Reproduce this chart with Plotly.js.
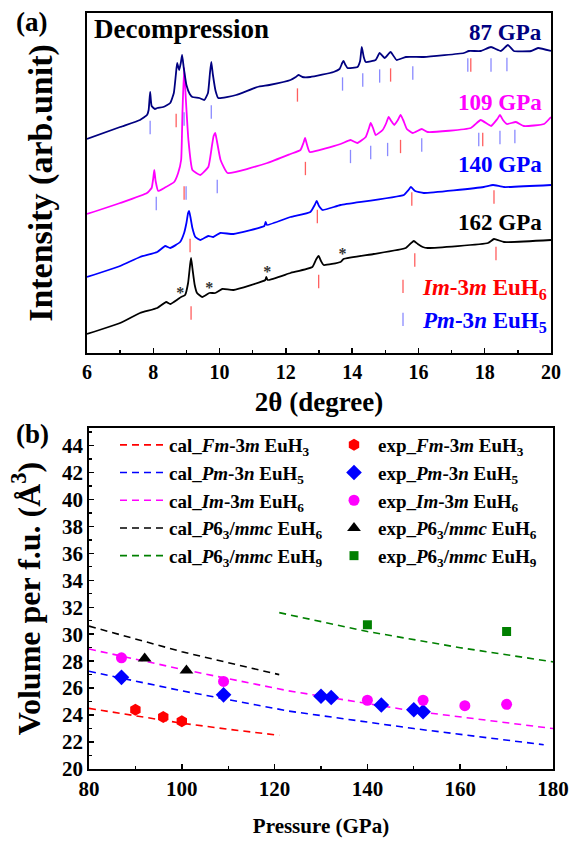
<!DOCTYPE html>
<html><head><meta charset="utf-8">
<script src="https://cdn.plot.ly/plotly-3.0.1.min.js"></script>
<style>body{margin:0;padding:0;background:#fff}#chart{width:580px;height:841px}</style>
</head><body><div id="chart"></div>
<script>
// ---------- Panel (a): XRD patterns (2θ in degree, intensity in arb. units) ----------
var x87 = [6.00,7.00,7.60,7.81,7.86,7.905,7.95,8.05,8.12,8.30,8.51,8.62,8.68,8.72,8.78,8.83,8.87,8.92,9.00,9.10,9.18,9.39,9.54,9.65,9.71,9.75,9.80,9.88,9.96,10.5,11.14,11.5,12.14,12.30,12.38,12.50,12.74,13.44,13.62,13.70,13.74,13.80,13.86,14.16,14.24,14.29,14.35,14.41,14.71,14.83,14.98,15.16,15.34,15.62,16.16,17.37,17.52,17.88,18.19,18.49,18.70,18.88,19.40,19.61,20.00];
var y87 = [214,226,233,238,243,261,247,244,245,246,250,260,278,290,283,290,298,285,268,259,256,255,253,260,280,291,278,262,255,258,266,268,273,276,278,276,276,281,284,290,292,288,285,286,292,306,296,291,293,300,295,301,293,296,296,300,302,302,306,302,308,302,302,305,302];
var x109 = [6.00,7.00,7.81,7.95,8.00,8.03,8.07,8.15,8.33,8.63,8.75,8.84,8.88,8.93,8.98,9.06,9.18,9.42,9.66,9.76,9.82,9.87,9.92,10.03,10.24,11.44,12.14,12.44,12.53,12.58,12.64,12.72,13.65,13.95,14.16,14.41,14.50,14.56,14.63,14.71,14.92,15.03,15.10,15.18,15.27,15.38,15.46,15.54,15.65,15.83,16.10,16.28,17.58,17.88,18.19,18.38,18.46,18.55,18.67,18.94,19.18,19.79,20.00];
var y109 = [139,150,160,165,175,183,172,162,165,171,180,193,240,285,255,213,183,178,186,205,217,220,212,193,180,190,199,203,210,215,208,201,209,213,210,216,224,230,225,218,223,230,236,232,228,233,238,233,224,220,224,221,225,233,227,234,238,233,229,231,227,229,236];
var x140 = [6.00,7.00,7.60,8.12,8.36,8.51,8.81,8.93,9.00,9.05,9.08,9.12,9.18,9.27,9.42,9.66,9.81,10.02,10.42,11.35,11.39,11.43,12.14,12.74,12.87,12.93,13.00,13.11,13.65,15.56,15.70,15.77,15.90,16.16,17.97,18.25,18.58,20.00];
var y140 = [76,87,96,101,107,105,111,120,130,140,142,136,125,116,113,117,116,120,119,127,131,128,136,141,148,152,147,143,148,158,163,166,162,160,166,168,166,168];
var x162 = [6.00,7.00,7.60,8.12,8.39,8.51,8.75,8.84,8.96,9.05,9.11,9.14,9.18,9.25,9.32,9.48,9.69,9.87,10.08,10.42,11.38,11.41,11.45,12.14,12.80,12.92,12.99,13.06,13.14,13.65,13.74,14.65,15.62,15.78,15.86,15.98,16.13,16.28,18.10,18.28,18.58,20.00];
var y162 = [19,30,40,45,51,49,54,56,58,70,88,95,85,68,60,56,60,60,64,63,73,76,73,80,86,94,97,92,88,91,94,99,105,110,112,109,106,105,110,114,111,113];

// Bragg reflection positions (2θ) and the height where each tick sits
var t87BlueX = [7.905,8.93,9.75,13.71,14.32,14.83,15.83,17.49,18.19,18.67];
var t87BlueY = [225.5,234,241,269,273,277,280,288,288,288.5];
var t87RedX = [8.69,12.35,15.16,17.58];
var t87RedY = [232.5,258,278,288];
var t109BlueX = [8.09,8.99,9.93,13.95,14.56,15.07,16.10,17.82,18.46,18.91];
var t109BlueY = [149.5,160,166.5,196.5,200.5,203.5,208,213.5,215.5,216.5];
var t109RedX = [8.93,12.59,15.46,17.94];
var t109RedY = [160,184.5,206.5,213.5];
var t140RedX = [9.11,12.95,15.80,18.28];
var t140RedY = [107.5,136.5,154,156];
var t162RedX = [9.14,12.99,15.89,18.34];
var t162RedY = [40,71.5,93,99.5];

// impurity peaks marked with *
var astX = [8.81,9.69,11.44,13.71];
var astY = [59,64,80,98];

// pressure labels
var pressLabels = ['87 GPa','109 GPa','140 GPa','162 GPa'];
var pressLabelY = [320,250,188,130];
var pressColors = ['#000080','#ff00ff','#0000ff','#000000'];

// ---------- Panel (b): volume per formula unit vs pressure ----------
var calP_Fm = [80,90,100,110,121];   var calV_Fm = [24.5,23.95,23.4,22.95,22.5];
var calP_Pm = [80,100,123,150,178];  var calV_Pm = [27.25,25.8,24.3,23.0,21.8];
var calP_Im = [80,100,123,150,180];  var calV_Im = [28.9,27.4,25.8,24.3,23.0];
var calP_P6 = [80,100,121];          var calV_P6 = [30.6,28.7,27.0];
var calP_P9 = [121,140,160,180];     var calV_P9 = [31.6,30.2,29.0,27.95];

var expP_Fm = [90,96,100];                       var expV_Fm = [24.4,23.85,23.55];
var expP_Pm = [87,109,130,132.2,143,150,152];    var expV_Pm = [26.8,25.5,25.4,25.3,24.75,24.4,24.25];
var expP_Im = [87,109,140,152,161,170];          var expV_Im = [28.25,26.5,25.1,25.1,24.7,24.8];
var expP_P6 = [92,101];                          var expV_P6 = [28.2,27.3];
var expP_P9 = [140,170];                         var expV_P9 = [30.7,30.2];

var FONT = 'Liberation Serif, Times New Roman, serif';
function F(size, color){ return {family:FONT, size:size, color:color || '#000', weight:'bold'}; }
var W = 580, H = 841;
function px(v){ return v / W; }
function py(v){ return (H - v) / H; }

var traces = [];
function curve(x, y, c){
  traces.push({x:x, y:y, xaxis:'x', yaxis:'y', mode:'lines', showlegend:false, hoverinfo:'skip',
    line:{color:c, width:1.8, shape:'spline', smoothing:0.4}});
}
curve(x162, y162, '#000000');
curve(x140, y140, '#0000ff');
curve(x109, y109, '#ff00ff');
curve(x87, y87, '#000080');

var redX = [].concat(t87RedX, t109RedX, t140RedX, t162RedX);
var redY = [].concat(t87RedY, t109RedY, t140RedY, t162RedY);
var blueX = [].concat(t87BlueX, t109BlueX);
var blueY = [].concat(t87BlueY, t109BlueY);
traces.push({x:redX, y:redY, xaxis:'x', yaxis:'y', mode:'markers', legend:'legend3',
  name:'<span style="color:#ff0000"><i>Im</i>-3<i>m</i> EuH<sub>6</sub></span>',
  marker:{symbol:'line-ns-open', size:9.5, color:'rgba(255,40,40,0.75)', line:{width:1.3}}});
traces.push({x:blueX, y:blueY, xaxis:'x', yaxis:'y', mode:'markers', legend:'legend3',
  name:'<span style="color:#0000ff"><i>Pm</i>-3<i>n</i> EuH<sub>5</sub></span>',
  marker:{symbol:'line-ns-open', size:9.5, color:'rgba(60,60,255,0.6)', line:{width:1.3}}});
traces.push({x:astX, y:astY, xaxis:'x', yaxis:'y', mode:'text', text:astX.map(function(){return '*';}),
  textposition:'middle center', textfont:F(16, '#333333'), showlegend:false, hoverinfo:'skip'});

function cal(x, y, c, nm){
  traces.push({x:x, y:y, xaxis:'x2', yaxis:'y2', mode:'lines', name:nm, legend:'legend',
    line:{color:c, width:1.6, dash:'7px,5px'}});
}
cal(calP_Fm, calV_Fm, '#ff0000', 'cal_<i>Fm</i>-3<i>m</i> EuH<sub>3</sub>');
cal(calP_Pm, calV_Pm, '#0000ff', 'cal_<i>Pm</i>-3<i>n</i> EuH<sub>5</sub>');
cal(calP_Im, calV_Im, '#ff00ff', 'cal_<i>Im</i>-3<i>m</i> EuH<sub>6</sub>');
cal(calP_P6, calV_P6, '#000000', 'cal_<i>P</i>6<sub>3</sub>/<i>mmc</i> EuH<sub>6</sub>');
cal(calP_P9, calV_P9, '#008000', 'cal_<i>P</i>6<sub>3</sub>/<i>mmc</i> EuH<sub>9</sub>');

function exp(x, y, c, sym, sz, nm){
  traces.push({x:x, y:y, xaxis:'x2', yaxis:'y2', mode:'markers', name:nm, legend:'legend2',
    marker:{color:c, symbol:sym, size:sz, line:{width:0}}});
}
exp(expP_Fm, expV_Fm, '#ff0000', 'hexagon', 12, 'exp_<i>Fm</i>-3<i>m</i> EuH<sub>3</sub>');
exp(expP_Pm, expV_Pm, '#0000ff', 'diamond', 12, 'exp_<i>Pm</i>-3<i>n</i> EuH<sub>5</sub>');
exp(expP_Im, expV_Im, '#ff00ff', 'circle', 11, 'exp_<i>Im</i>-3<i>m</i> EuH<sub>6</sub>');
exp(expP_P6, expV_P6, '#000000', 'triangle-up', 12, 'exp_<i>P</i>6<sub>3</sub>/<i>mmc</i> EuH<sub>6</sub>');
exp(expP_P9, expV_P9, '#008000', 'square', 9, 'exp_<i>P</i>6<sub>3</sub>/<i>mmc</i> EuH<sub>9</sub>');

var axCommon = {showline:true, linewidth:1.8, linecolor:'#000', mirror:true, showgrid:false, zeroline:false,
  ticks:'inside', ticklen:5, tickwidth:1.5, tickcolor:'#000'};

var annotations = [
  {xref:'paper', yref:'paper', x:px(14), y:py(22), xanchor:'left', yanchor:'middle', showarrow:false,
   text:'(a)', font:F(27)},
  {xref:'paper', yref:'paper', x:px(14), y:py(434), xanchor:'left', yanchor:'middle', showarrow:false,
   text:'(b)', font:F(27)},
  {xref:'x', yref:'paper', x:6, xshift:5, y:py(29), xanchor:'left', yanchor:'middle', showarrow:false,
   text:'Decompression', font:F(27)}
];
pressLabels.forEach(function(t, i){
  annotations.push({xref:'x', yref:'y', x:20, xshift:-7, y:pressLabelY[i], xanchor:'right', yanchor:'middle',
    showarrow:false, text:t, font:F(23, pressColors[i])});
});

var legCommon = {bgcolor:'rgba(0,0,0,0)', borderwidth:0, xanchor:'left', yanchor:'top', tracegroupgap:0,
  traceorder:'normal', itemclick:false, itemdoubleclick:false};

var layout = {
  width:W, height:H, margin:{l:0, r:0, t:0, b:0}, paper_bgcolor:'#fff', plot_bgcolor:'#fff',
  font:F(20),
  xaxis: Object.assign({}, axCommon, {domain:[px(87), px(551)], range:[6,20], anchor:'y', tick0:6, dtick:2,
    minor:{dtick:1, ticks:'inside', ticklen:3, tickwidth:1.3, tickcolor:'#000'},
    tickfont:F(20), title:{text:'2θ (degree)', font:F(27), standoff:10}}),
  yaxis: Object.assign({}, axCommon, {domain:[py(353), py(13)], range:[0,340], anchor:'x', ticks:'', showticklabels:false,
    title:{text:'Intensity (arb.unit)', font:F(34), standoff:22}}),
  xaxis2: Object.assign({}, axCommon, {domain:[px(89), px(553)], range:[80,180], anchor:'y2', tick0:80, dtick:20,
    minor:{dtick:10, ticks:'inside', ticklen:3, tickwidth:1.3, tickcolor:'#000'},
    tickfont:F(21), title:{text:'Pressure (GPa)', font:F(21), standoff:18}}),
  yaxis2: Object.assign({}, axCommon, {domain:[py(769), py(428)], range:[20,45.3], anchor:'x2', tick0:20, dtick:2,
    minor:{dtick:1, ticks:'inside', ticklen:3, tickwidth:1.3, tickcolor:'#000'},
    tickfont:F(21), title:{text:'Volume per f.u. (Å<sup>3</sup>)', font:F(32), standoff:12}}),
  legend: Object.assign({}, legCommon, {x:px(115), y:py(426), itemwidth:44, font:F(19)}),
  legend2: Object.assign({}, legCommon, {x:px(330), y:py(426), itemwidth:38, font:F(19)}),
  legend3: Object.assign({}, legCommon, {x:px(383), y:py(265), font:F(23)}),
  annotations: annotations,
  showlegend:true
};

Plotly.newPlot('chart', traces, layout, {displayModeBar:false, staticPlot:true});
</script></body></html>
